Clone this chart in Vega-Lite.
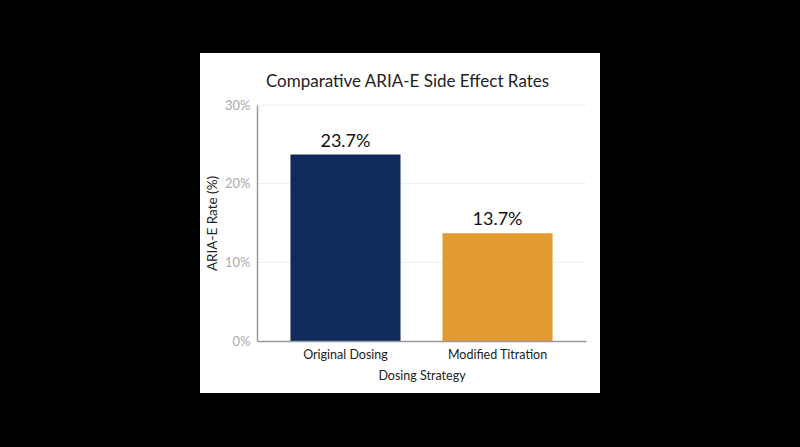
{
  "$schema": "https://vega.github.io/schema/vega-lite/v6.json",
  "autosize": {"type": "none"},
  "width": 329,
  "height": 236,
  "padding": {"left": 257, "top": 105, "right": 214, "bottom": 106},
  "background": "black",
  "config": {
    "font": "Lato",
    "view": {"stroke": null}
  },
  "title": {
    "text": "Comparative ARIA-E Side Effect Rates",
    "font": "Lato",
    "fontSize": 17,
    "fontWeight": "normal",
    "color": "#222222",
    "anchor": "middle",
    "dx": -14,
    "offset": -38
  },
  "data": {
    "values": [
      {"strategy": "Original Dosing", "rate": 23.7, "label": "23.7%"},
      {"strategy": "Modified Titration", "rate": 13.7, "label": "13.7%"}
    ]
  },
  "layer": [
    {
      "mark": {"type": "rect", "color": "white", "clip": false},
      "encoding": {
        "x": {"value": -57},
        "x2": {"value": {"expr": "width + 14"}},
        "y": {"value": -52},
        "y2": {"value": {"expr": "height + 52"}}
      }
    },
    {
      "data": {"values": [{"g": 10}, {"g": 20}, {"g": 30}]},
      "mark": {"type": "rule", "color": "#eeeeee", "strokeWidth": 1},
      "encoding": {
        "y": {"field": "g", "type": "quantitative", "scale": {"domain": [0, 30]}}
      }
    },
    {
      "mark": {"type": "bar"},
      "encoding": {
        "x": {
          "field": "strategy",
          "type": "nominal",
          "sort": null,
          "scale": {"paddingInner": 0.276, "paddingOuter": 0.22},
          "axis": {
            "title": "Dosing Strategy",
            "labelAngle": 0,
            "labelFont": "Lato",
            "labelFontSize": 12.5,
            "labelColor": "#222222",
            "labelPadding": 7,
            "ticks": false,
            "domainColor": "#999999",
            "domainWidth": 1.5,
            "titleFont": "Lato",
            "titleFontSize": 12.5,
            "titleFontWeight": "normal",
            "titleColor": "#222222",
            "titlePadding": 9,
            "zindex": 1
          }
        },
        "y": {
          "field": "rate",
          "type": "quantitative",
          "scale": {"domain": [0, 30], "nice": false},
          "axis": {
            "title": "ARIA-E Rate (%)",
            "values": [0, 10, 20, 30],
            "labelExpr": "datum.value + '%'",
            "grid": false,
            "ticks": false,
            "labelFont": "Lato",
            "labelFontSize": 13,
            "labelColor": "#aaaaaa",
            "labelPadding": 7,
            "domainColor": "#999999",
            "domainWidth": 1.5,
            "titleFont": "Lato",
            "titleFontSize": 13.5,
            "titleFontWeight": "normal",
            "titleColor": "#222222",
            "titlePadding": 5,
            "zindex": 1
          }
        },
        "color": {
          "field": "strategy",
          "type": "nominal",
          "sort": null,
          "scale": {"range": ["#112a5c", "#e39a2e"]},
          "legend": null
        }
      }
    },
    {
      "mark": {"type": "text", "font": "Lato", "fontSize": 18, "color": "#111111", "dy": -8, "baseline": "alphabetic"},
      "encoding": {
        "x": {"field": "strategy", "type": "nominal", "sort": null},
        "y": {"field": "rate", "type": "quantitative"},
        "text": {"field": "label"}
      }
    }
  ]
}
